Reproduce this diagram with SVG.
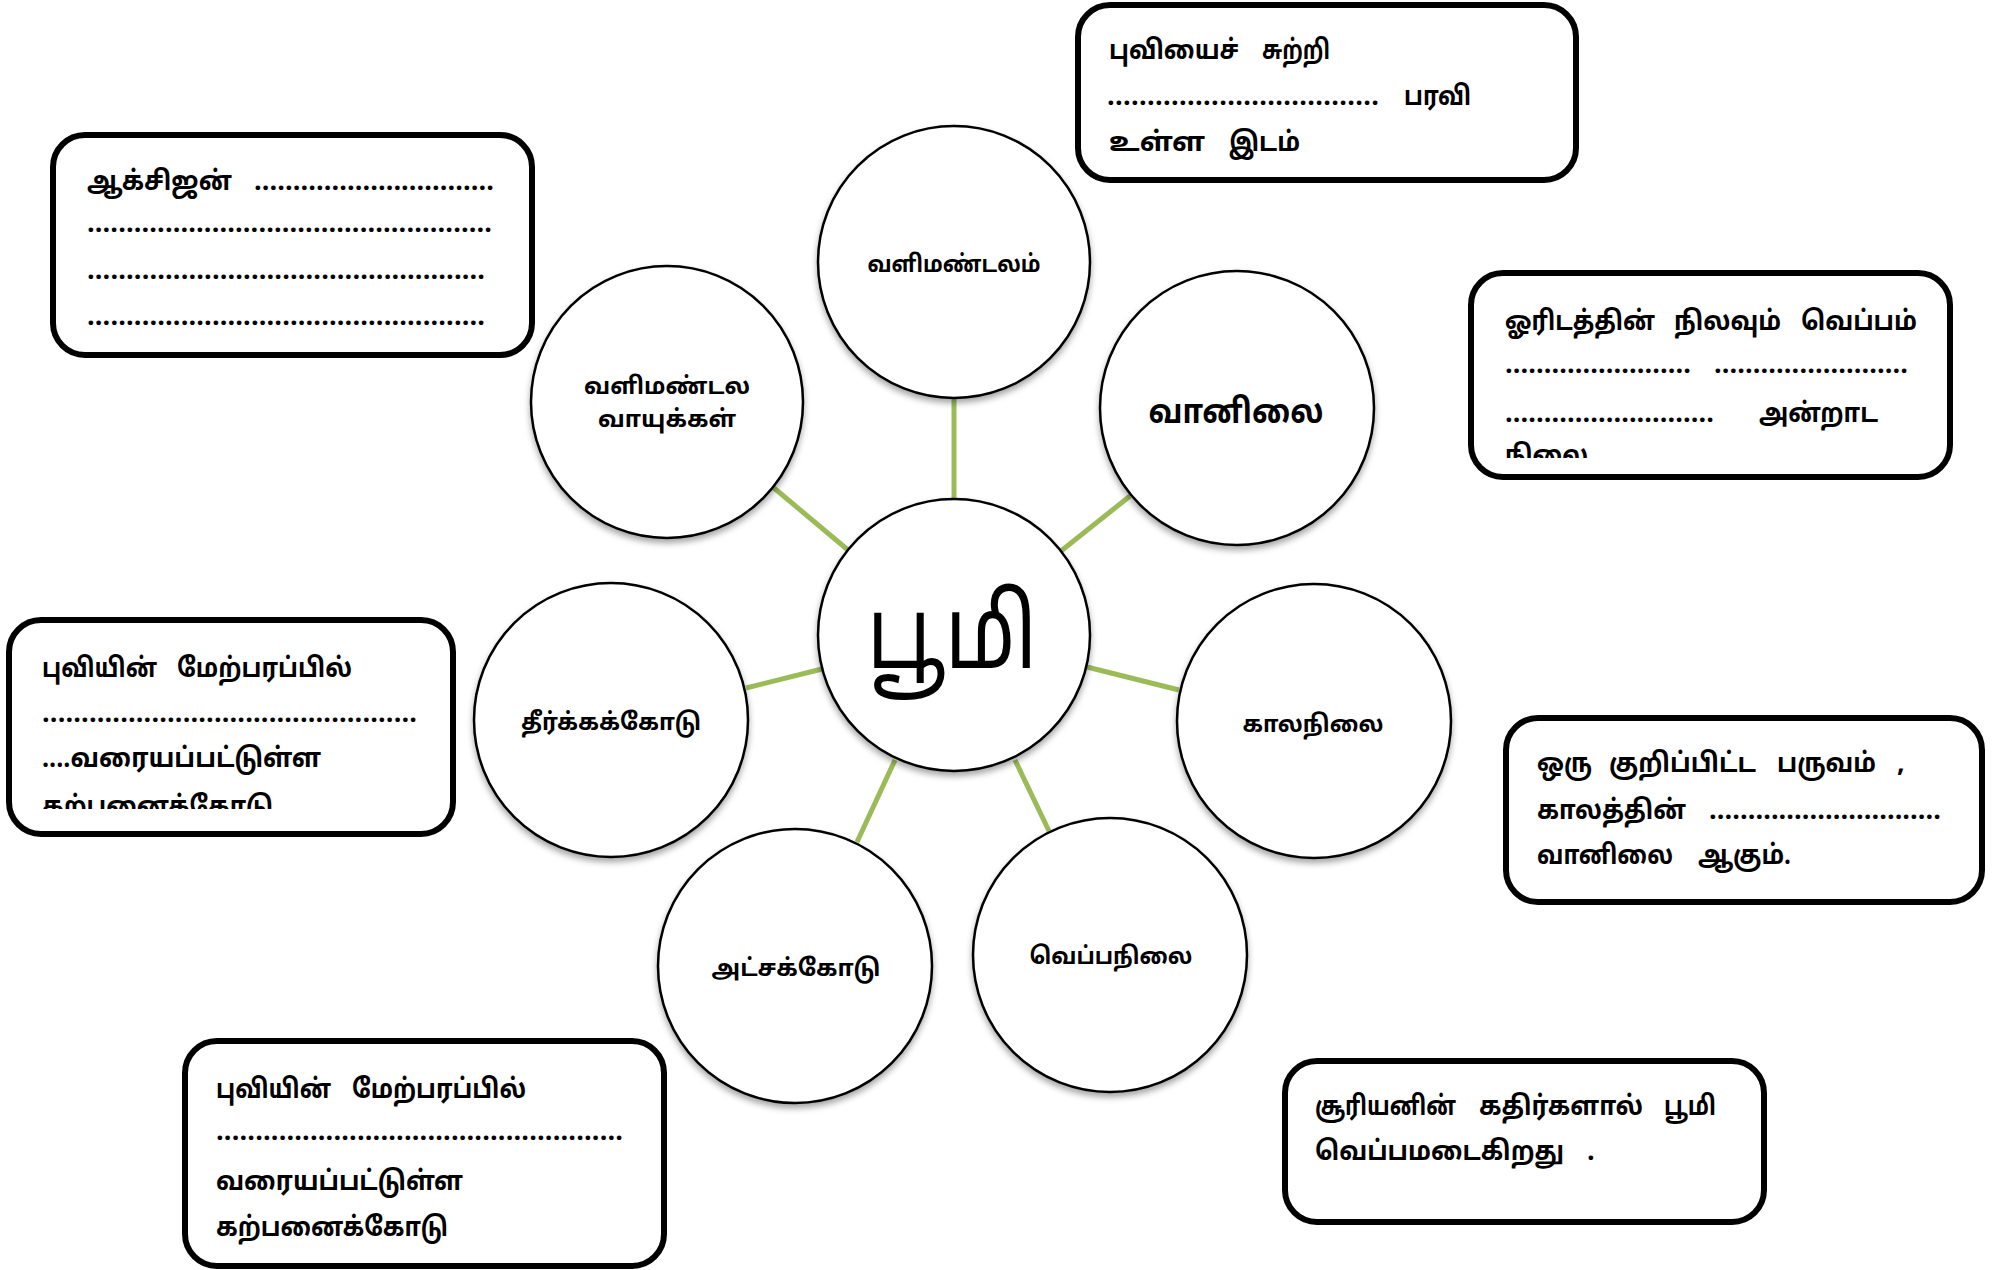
<svg xmlns="http://www.w3.org/2000/svg" width="2013" height="1270" viewBox="0 0 2013 1270">
<style>
.box{fill:#fff;stroke:#000;stroke-width:6}
.node{fill:#fff;stroke:#000;stroke-width:2.5}
.conn{stroke:#9BBB59;stroke-width:5;fill:none}
.bt{font-family:"Noto Sans Tamil","Latha","Noto Sans",sans-serif;font-size:27px;font-weight:bold;fill:#000}
.nt{font-family:"Noto Sans Tamil","Latha","Noto Sans",sans-serif;font-size:24px;font-weight:bold;fill:#000;text-anchor:middle}
.big{font-family:"Noto Sans Tamil","Latha","Noto Sans",sans-serif;font-size:100px;fill:#000;text-anchor:middle}
</style>
<defs>
<filter id="sh" x="-20%" y="-20%" width="140%" height="150%">
<feDropShadow dx="0" dy="4" stdDeviation="3" flood-color="#000" flood-opacity="0.35"/>
</filter>
<clipPath id="c3"><rect x="1471" y="273" width="479" height="185"/></clipPath>
<clipPath id="c4"><rect x="9" y="620" width="444" height="189"/></clipPath>
</defs>
<rect width="2013" height="1270" fill="#fff"/>

<g id="connectors">
<line class="conn" x1="954" y1="398" x2="954" y2="499"/>
<line class="conn" x1="774" y1="488" x2="848" y2="550"/>
<line class="conn" x1="1130" y1="496" x2="1061" y2="551"/>
<line class="conn" x1="746" y1="688" x2="822" y2="669"/>
<line class="conn" x1="1087" y1="667" x2="1179" y2="690"/>
<line class="conn" x1="895" y1="760" x2="857" y2="842"/>
<line class="conn" x1="1015" y1="760" x2="1049" y2="831"/>
</g>

<g id="node-boomi">
<circle class="node" filter="url(#sh)" cx="954" cy="635" r="136"/>
<text class="big" x="952" y="668" textLength="170" lengthAdjust="spacingAndGlyphs">பூமி</text>
</g>
<g id="node-valimandalam">
<circle class="node" filter="url(#sh)" cx="954" cy="262" r="136"/>
<text class="nt" x="954" y="272" textLength="173" lengthAdjust="spacingAndGlyphs">வளிமண்டலம்</text>
</g>
<g id="node-vayukkal">
<circle class="node" filter="url(#sh)" cx="667" cy="402" r="136"/>
<text class="nt" x="667" y="394" textLength="166" lengthAdjust="spacingAndGlyphs">வளிமண்டல</text>
<text class="nt" x="667" y="427" textLength="138" lengthAdjust="spacingAndGlyphs">வாயுக்கள்</text>
</g>
<g id="node-vanilai">
<circle class="node" filter="url(#sh)" cx="1237" cy="408" r="137"/>
<text class="nt" x="1236" y="423" style="font-size:34px" textLength="175" lengthAdjust="spacingAndGlyphs">வானிலை</text>
</g>
<g id="node-theerkkakodu">
<circle class="node" filter="url(#sh)" cx="611" cy="720" r="137"/>
<text class="nt" x="611" y="730" textLength="180" lengthAdjust="spacingAndGlyphs">தீர்க்கக்கோடு</text>
</g>
<g id="node-kalanilai">
<circle class="node" filter="url(#sh)" cx="1314" cy="721" r="137"/>
<text class="nt" x="1313" y="732" textLength="141" lengthAdjust="spacingAndGlyphs">காலநிலை</text>
</g>
<g id="node-atchakkodu">
<circle class="node" filter="url(#sh)" cx="795" cy="966" r="137"/>
<text class="nt" x="796" y="976" textLength="169" lengthAdjust="spacingAndGlyphs">அட்சக்கோடு</text>
</g>
<g id="node-veppanilai">
<circle class="node" filter="url(#sh)" cx="1110" cy="955" r="137"/>
<text class="nt" x="1111" y="964" textLength="163" lengthAdjust="spacingAndGlyphs">வெப்பநிலை</text>
</g>

<g id="box-top">
<rect class="box" x="1078" y="5" width="498" height="175" rx="32"/>
<text class="bt" y="59"><tspan x="1109" textLength="130" lengthAdjust="spacingAndGlyphs">புவியைச்</tspan><tspan x="1262" textLength="68" lengthAdjust="spacingAndGlyphs">சுற்றி</tspan></text>
<text class="bt" y="105"><tspan x="1107" textLength="272">..................................</tspan><tspan x="1404" textLength="67" lengthAdjust="spacingAndGlyphs">பரவி</tspan></text>
<text class="bt" y="151"><tspan x="1109" textLength="96" lengthAdjust="spacingAndGlyphs">உள்ள</tspan><tspan x="1229" textLength="71" lengthAdjust="spacingAndGlyphs">இடம்</tspan></text>
</g>

<g id="box-oxygen">
<rect class="box" x="53" y="135" width="479" height="220" rx="32"/>
<text class="bt" y="190"><tspan x="87" textLength="145" lengthAdjust="spacingAndGlyphs">ஆக்சிஜன்</tspan><tspan x="254" textLength="240">...............................</tspan></text>
<text class="bt" x="87" y="232" textLength="405">....................................................</text>
<text class="bt" x="87" y="279" textLength="398">...................................................</text>
<text class="bt" x="87" y="325" textLength="398">...................................................</text>
</g>

<g id="box-weather">
<rect class="box" x="1471" y="273" width="479" height="204" rx="32"/>
<g clip-path="url(#c3)">
<text class="bt" y="330"><tspan x="1505" textLength="150" lengthAdjust="spacingAndGlyphs">ஓரிடத்தின்</tspan><tspan x="1674" textLength="107" lengthAdjust="spacingAndGlyphs">நிலவும்</tspan><tspan x="1801" textLength="116" lengthAdjust="spacingAndGlyphs">வெப்பம்</tspan></text>
<text class="bt" y="373"><tspan x="1505" textLength="186">........................</tspan><tspan x="1714" textLength="194">.........................</tspan></text>
<text class="bt" y="422"><tspan x="1505" textLength="209">...........................</tspan><tspan x="1759" textLength="119" lengthAdjust="spacingAndGlyphs">அன்றாட</tspan></text>
<text class="bt" x="1505" y="464" textLength="83" lengthAdjust="spacingAndGlyphs">நிலை</text>
</g>
</g>

<g id="box-longitude">
<rect class="box" x="9" y="620" width="444" height="214" rx="32"/>
<g clip-path="url(#c4)">
<text class="bt" y="677"><tspan x="42" textLength="115" lengthAdjust="spacingAndGlyphs">புவியின்</tspan><tspan x="177" textLength="175" lengthAdjust="spacingAndGlyphs">மேற்பரப்பில்</tspan></text>
<text class="bt" x="42" y="722" textLength="375">................................................</text>
<text class="bt" x="42" y="767" textLength="279" lengthAdjust="spacingAndGlyphs">....வரையப்பட்டுள்ள</text>
<text class="bt" x="42" y="815" textLength="231" lengthAdjust="spacingAndGlyphs">கற்பனைக்கோடு</text>
</g>
</g>

<g id="box-climate">
<rect class="box" x="1506" y="718" width="476" height="184" rx="32"/>
<text class="bt" y="772"><tspan x="1537" textLength="55" lengthAdjust="spacingAndGlyphs">ஒரு</tspan><tspan x="1609" textLength="147" lengthAdjust="spacingAndGlyphs">குறிப்பிட்ட</tspan><tspan x="1777" textLength="99" lengthAdjust="spacingAndGlyphs">பருவம்</tspan><tspan x="1897">,</tspan></text>
<text class="bt" y="819"><tspan x="1537" textLength="149" lengthAdjust="spacingAndGlyphs">காலத்தின்</tspan><tspan x="1709" textLength="232">..............................</tspan></text>
<text class="bt" y="864"><tspan x="1537" textLength="136" lengthAdjust="spacingAndGlyphs">வானிலை</tspan><tspan x="1698" textLength="93" lengthAdjust="spacingAndGlyphs">ஆகும்.</tspan></text>
</g>

<g id="box-latitude">
<rect class="box" x="185" y="1041" width="479" height="225" rx="32"/>
<text class="bt" y="1098"><tspan x="216" textLength="115" lengthAdjust="spacingAndGlyphs">புவியின்</tspan><tspan x="352" textLength="174" lengthAdjust="spacingAndGlyphs">மேற்பரப்பில்</tspan></text>
<text class="bt" x="216" y="1140" textLength="407">....................................................</text>
<text class="bt" x="216" y="1190" textLength="247" lengthAdjust="spacingAndGlyphs">வரையப்பட்டுள்ள</text>
<text class="bt" x="216" y="1236" textLength="232" lengthAdjust="spacingAndGlyphs">கற்பனைக்கோடு</text>
</g>

<g id="box-temperature">
<rect class="box" x="1285" y="1061" width="479" height="161" rx="32"/>
<text class="bt" y="1115"><tspan x="1315" textLength="141" lengthAdjust="spacingAndGlyphs">சூரியனின்</tspan><tspan x="1479" textLength="164" lengthAdjust="spacingAndGlyphs">கதிர்களால்</tspan><tspan x="1664" textLength="52" lengthAdjust="spacingAndGlyphs">பூமி</tspan></text>
<text class="bt" y="1160"><tspan x="1315" textLength="249" lengthAdjust="spacingAndGlyphs">வெப்பமடைகிறது</tspan><tspan x="1587">.</tspan></text>
</g>
</svg>
